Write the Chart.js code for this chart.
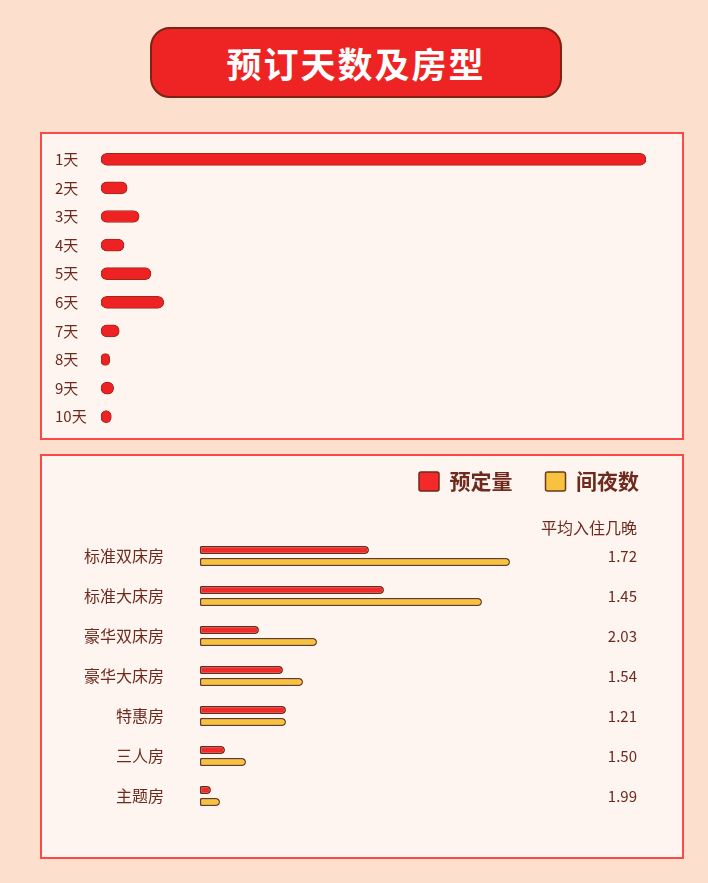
<!DOCTYPE html>
<html>
<head>
<meta charset="utf-8">
<script src="https://cdn.jsdelivr.net/npm/chart.js@4.4.1/dist/chart.umd.min.js"></script>
<style>
    html, body {
        margin: 0;
        padding: 0;
        width: 708px;
        height: 883px;
        background: #fddfce;
        font-family: 'Noto Sans CJK SC', sans-serif;
        overflow: hidden;
    }
    .banner {
        position: absolute;
        left: 150px;
        top: 27px;
        width: 408px;
        height: 67px;
        border: 2px solid #7a2414;
        border-radius: 20px;
        background: #ee2323;
        color: #fff;
        font-size: 35px;
        font-weight: 700;
        line-height: 67px;
        text-align: center;
        letter-spacing: 2px;
    }
    .panel {
        position: absolute;
        left: 40px;
        width: 640px;
        border: 2px solid #fb4a46;
        background: #fef5f1;
    }
    .chart-box {
        position: absolute;
        left: 42px;
        width: 640px;
    }
</style>
</head>
<body>
<div class="banner">预订天数及房型</div>
<div class="panel" style="top:132px;height:304px;"></div>
<div class="panel" style="top:454px;height:401px;"></div>
<div class="chart-box" style="top:134px;height:304px;"><canvas id="days-chart"></canvas></div>
<div class="chart-box" style="top:438px;height:420px;"><canvas id="rooms-chart"></canvas></div>
<script>
// booked length of stay, share of orders (%)
const dayLabels = ['1天', '2天', '3天', '4天', '5天', '6天', '7天', '8天', '9天', '10天'];
const dayShares = [68.5, 3.3, 4.8, 2.9, 6.3, 7.9, 2.3, 1.1, 1.6, 1.3];

// room types
const roomLabels = ['标准双床房', '标准大床房', '豪华双床房', '豪华大床房', '特惠房', '三人房', '主题房'];
const bookings = [169, 184, 59, 83, 86, 25, 11];
const roomNights = [310, 282, 117, 103, 86, 46, 20];
const avgNights = ['1.72', '1.45', '2.03', '1.54', '1.21', '1.50', '1.99'];
const roomAxisMax = 437;

const textColor = '#6e2a1c';
Chart.defaults.font.family = "'Noto Sans CJK SC', 'Noto Sans', sans-serif";
Chart.defaults.color = textColor;
Chart.defaults.animation = false;

// fixed axis width; drop the label overhang so layout.padding decides the chart area
function fixWidth(width) {
    return (scale) => {
        scale.width = width;
        scale.paddingTop = 0;
        scale.paddingBottom = 0;
    };
}

let daysChart = new Chart(document.querySelector('#days-chart'), {
    type: 'bar',
    data: {
        labels: dayLabels,
        datasets: [{
            data: dayShares,
            backgroundColor: '#ee2222',
            borderColor: '#a3261b',
            borderWidth: 1,
            borderRadius: 6,
            borderSkipped: false,
            barThickness: 12,
        }]
    },
    options: {
        indexAxis: 'y',
        responsive: true,
        maintainAspectRatio: false,
        layout: {padding: {left: 13, right: 36, top: 11, bottom: 7}},
        plugins: {legend: {display: false}, tooltip: {enabled: false}},
        scales: {
            x: {display: false, min: 0, max: Math.max(...dayShares)},
            y: {
                grid: {display: false, drawTicks: false},
                border: {display: false},
                ticks: {crossAlign: 'far', padding: 0, color: textColor, font: {size: 15}},
                afterFit: fixWidth(46)
            }
        }
    }
});

let roomsChart = new Chart(document.querySelector('#rooms-chart'), {
    type: 'bar',
    data: {
        labels: roomLabels,
        datasets: [
            {
                label: '预定量',
                data: bookings,
                backgroundColor: '#f42a2a',
                borderColor: '#6b2a1a',
                borderWidth: 1.5,
                borderRadius: {topLeft: 1, bottomLeft: 1, topRight: 4, bottomRight: 4},
                borderSkipped: false,
                yAxisID: 'y',
            },
            {
                label: '间夜数',
                data: roomNights,
                backgroundColor: '#f7c23e',
                borderColor: '#6b3a1a',
                borderWidth: 1.5,
                borderRadius: {topLeft: 1, bottomLeft: 1, topRight: 4, bottomRight: 4},
                borderSkipped: false,
                yAxisID: 'y',
            }
        ]
    },
    options: {
        indexAxis: 'y',
        responsive: true,
        maintainAspectRatio: false,
        categoryPercentage: 0.6,
        barPercentage: 0.667,
        layout: {padding: {left: 0, right: 10, top: 0, bottom: 42}},
        plugins: {
            tooltip: {enabled: false},
            legend: {
                position: 'top',
                align: 'end',
                labels: {
                    color: textColor,
                    font: {size: 21, weight: 'bold'},
                    boxWidth: 20,
                    boxHeight: 19,
                    padding: 33,
                    useBorderRadius: true,
                    borderRadius: 2,
                }
            }
        },
        scales: {
            x: {
                position: 'top',
                min: 0,
                max: roomAxisMax,
                grid: {display: false, drawTicks: false},
                border: {display: false},
                ticks: {display: false},
                title: {
                    display: true,
                    text: '平均入住几晚',
                    align: 'end',
                    color: textColor,
                    font: {size: 16, lineHeight: 1},
                    padding: {top: 18, bottom: 0},
                }
            },
            y: {
                grid: {display: false, drawTicks: false},
                border: {display: false},
                ticks: {padding: 36, color: textColor, font: {size: 16}},
                afterFit: fixWidth(158)
            },
            // average nights per booking, drawn as a second category axis
            y2: {
                type: 'category',
                position: 'right',
                labels: avgNights,
                offset: true,
                grid: {display: false, drawTicks: false},
                border: {display: false},
                ticks: {mirror: true, crossAlign: 'near', padding: 0, color: textColor, font: {size: 15}},
                afterFit: fixWidth(35)
            }
        }
    }
});
</script>
</body>
</html>
